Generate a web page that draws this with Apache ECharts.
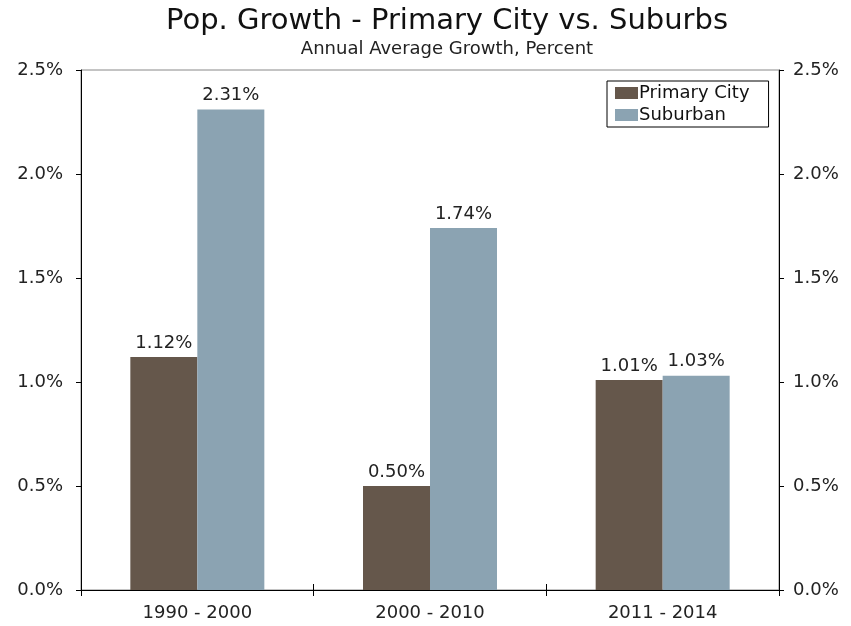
<!DOCTYPE html>
<html><head><meta charset="utf-8">
<script src="https://cdn.jsdelivr.net/npm/echarts@6/dist/echarts.min.js"></script>
<style>html,body{margin:0;padding:0;background:#fff}#c{width:851px;height:626px}</style>
</head><body><div id="c"></div>
<script>
const categories = ['1990 - 2000', '2000 - 2010', '2011 - 2014'];
const primaryCity = [1.12, 0.50, 1.01];
const suburban = [2.31, 1.74, 1.03];
const seriesNames = ['Primary City', 'Suburban'];
const FONT = 'DejaVu Sans';
const chart = echarts.init(document.getElementById('c'));
const yAxisCommon = {
  type: 'value', min: 0, max: 2.5, interval: 0.5,
  axisLine: {show: true, lineStyle: {color: '#000', width: 1}},
  axisTick: {show: true, length: 5, lineStyle: {color: '#000'}},
  splitLine: {show: false},
  axisLabel: {formatter: v => v.toFixed(1) + '%', color: '#222', fontFamily: FONT, fontSize: 18}
};
const labelStyle = {show: true, position: 'top', distance: 5, formatter: p => p.value.toFixed(2) + '%', color: '#222', fontFamily: FONT, fontSize: 18};
chart.setOption({
  animation: false,
  backgroundColor: '#fff',
  title: {
    text: 'Pop. Growth - Primary City vs. Suburbs',
    subtext: 'Annual Average Growth, Percent',
    left: 442, top: 2, textAlign: 'center', itemGap: 4,
    textStyle: {fontFamily: FONT, fontSize: 29, fontWeight: 'normal', color: '#111'},
    subtextStyle: {fontFamily: FONT, fontSize: 18, color: '#222'}
  },
  legend: {
    orient: 'vertical', left: 607, top: 81,
    borderColor: '#000', borderWidth: 1, padding: [3, 19, 3, 8],
    itemWidth: 23, itemHeight: 12, itemGap: 4,
    icon: 'rect',
    textStyle: {fontFamily: FONT, fontSize: 18, color: '#111', padding: [0, 0, 0, -4]},
    data: seriesNames
  },
  grid: {left: 81, right: 72, top: 70, bottom: 36, show: true, borderColor: '#888', borderWidth: 1, containLabel: false},
  xAxis: [{
    type: 'category', data: categories, position: 'bottom',
    axisLine: {show: true, lineStyle: {color: '#000', width: 1}},
    axisTick: {show: true, length: 6, lineStyle: {color: '#000'}},
    axisLabel: {color: '#222', fontFamily: FONT, fontSize: 18, margin: 14}
  }, {
    type: 'category', data: categories, position: 'bottom',
    axisLine: {show: false},
    axisTick: {show: true, inside: true, length: 6, lineStyle: {color: '#000'}},
    axisLabel: {show: false}
  }],
  yAxis: [
    Object.assign({}, yAxisCommon, {position: 'left', axisLabel: Object.assign({}, yAxisCommon.axisLabel, {margin: 18})}),
    Object.assign({}, yAxisCommon, {position: 'right', axisLabel: Object.assign({}, yAxisCommon.axisLabel, {margin: 14})})
  ],
  series: [{
    name: seriesNames[0], type: 'bar', data: primaryCity, barWidth: 67, barGap: '0%',
    itemStyle: {color: '#65574b'},
    label: labelStyle
  }, {
    name: seriesNames[1], type: 'bar', data: suburban, barWidth: 67, barGap: '0%',
    itemStyle: {color: '#8ba3b2'},
    label: labelStyle
  }]
});
</script></body></html>
